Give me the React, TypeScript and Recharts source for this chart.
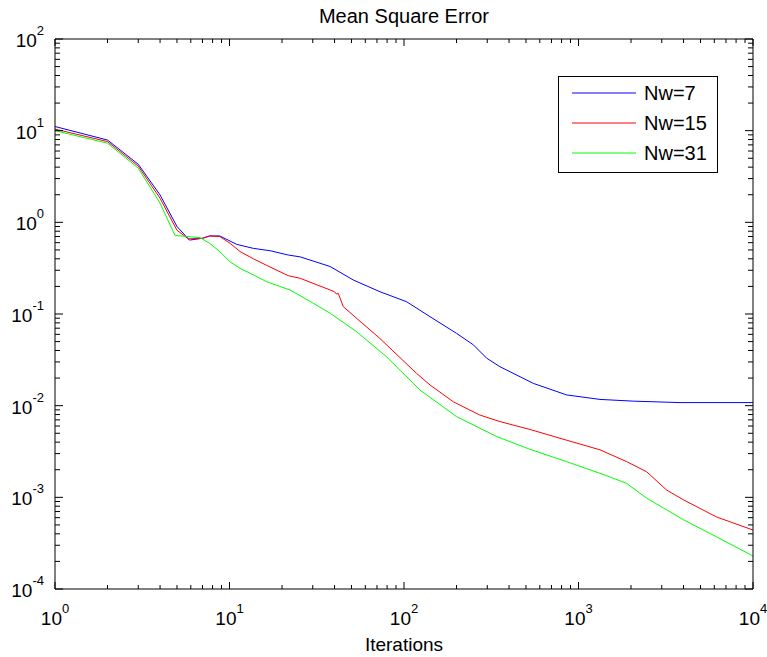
import { LineChart, Line, XAxis, YAxis, Legend } from 'recharts';

const seriesNames = ['Nw=7', 'Nw=15', 'Nw=31'];

const blueIter = [1, 2, 3, 4, 5, 5.9, 7, 7.7, 8.8, 11, 13.7, 17.1, 21.7, 25.4, 37.7, 51.2, 72.8, 103.6, 141, 200, 250, 298, 355, 551, 855, 1327, 2060, 3820, 10000];
const blueMse = [11.1, 7.9, 4.3, 1.99, 0.9, 0.64, 0.67, 0.71, 0.71, 0.575, 0.52, 0.49, 0.44, 0.42, 0.33, 0.235, 0.175, 0.136, 0.0935, 0.0615, 0.046, 0.0329, 0.0266, 0.0175, 0.0131, 0.0117, 0.0112, 0.0108, 0.0108];

const redIter = [1, 2, 3, 4, 5, 5.8, 7, 7.7, 8.8, 10.07, 11.5, 13.7, 16.3, 21.7, 25.4, 37.7, 40, 41, 42, 44.9, 72.8, 118, 141, 192, 272, 355, 527, 855, 1327, 1889, 2459, 3200, 3990, 6190, 10000];
const redMse = [10.4, 7.6, 4.1, 1.83, 0.82, 0.66, 0.67, 0.71, 0.7, 0.59, 0.48, 0.4, 0.34, 0.262, 0.245, 0.183, 0.175, 0.165, 0.168, 0.12, 0.054, 0.0225, 0.0168, 0.011, 0.0079, 0.0067, 0.0055, 0.0042, 0.0033, 0.00245, 0.0019, 0.0012, 0.00094, 0.00061, 0.00044];

const greenIter = [1, 2, 3, 4, 4.87, 6.78, 7.7, 8.8, 10.07, 11.5, 13.7, 16.3, 22.2, 30.2, 37.7, 53.6, 79.6, 123.6, 200, 340, 527, 855, 1327, 1889, 2459, 3990, 6190, 10000];
const greenMse = [10.0, 7.3, 3.9, 1.62, 0.72, 0.68, 0.59, 0.48, 0.37, 0.315, 0.267, 0.225, 0.183, 0.131, 0.102, 0.064, 0.034, 0.0148, 0.0076, 0.0046, 0.00334, 0.00245, 0.00183, 0.00142, 0.00098, 0.00057, 0.00037, 0.000229];

const xDecades = [0, 1, 2, 3, 4];
const yDecades = [-4, -3, -2, -1, 0, 1, 2];
const minorSteps = [2, 3, 4, 5, 6, 7, 8, 9];

const FONT = '"Liberation Sans", Arial, Helvetica, sans-serif';

const toPoints = (xs: number[], ys: number[]) => xs.map((x, i) => ({ x, y: ys[i] }));

// majors plus the 2..9 minor ticks inside each decade
const logTicks = (decades: number[]) => {
  const out: number[] = [];
  decades.forEach((d, i) => {
    out.push(Math.pow(10, d));
    if (i < decades.length - 1) minorSteps.forEach((m) => out.push(m * Math.pow(10, d)));
  });
  return out;
};

const xTicks = logTicks(xDecades);
const yTicks = logTicks(yDecades);

const isMajor = (v: number) => Math.abs(Math.log10(v) - Math.round(Math.log10(v))) < 1e-6;

const Power = ({ x, y, exp, anchor }: { x: number; y: number; exp: number; anchor: string }) => (
  <text x={x} y={y} textAnchor={anchor} fontFamily={FONT} fontSize={19} fill="#000">
    10
    <tspan dy={-12} fontSize={13}>{exp}</tspan>
  </text>
);

const BottomTick = (props: any) => {
  const { x, y, payload } = props;
  const major = isMajor(payload.value);
  return (
    <g>
      <line x1={x} y1={y} x2={x} y2={y - (major ? 7 : 4)} stroke="#000" />
      {major && <Power x={x} y={y + 36} exp={Math.round(Math.log10(payload.value))} anchor="middle" />}
    </g>
  );
};

const TopTick = (props: any) => {
  const { x, y, payload } = props;
  const major = isMajor(payload.value);
  return <line x1={x} y1={y} x2={x} y2={y + (major ? 7 : 4)} stroke="#000" />;
};

const LeftTick = (props: any) => {
  const { x, y, payload } = props;
  const major = isMajor(payload.value);
  return (
    <g>
      <line x1={x} y1={y} x2={x + (major ? 8 : 5)} y2={y} stroke="#000" />
      {major && <Power x={x - 11} y={y + 8} exp={Math.round(Math.log10(payload.value))} anchor="end" />}
    </g>
  );
};

const RightTick = (props: any) => {
  const { x, y, payload } = props;
  const major = isMajor(payload.value);
  return <line x1={x} y1={y} x2={x - (major ? 8 : 5)} y2={y} stroke="#000" />;
};

const renderLegend = (props: any) => {
  const entries = [...(props.payload || [])].sort(
    (a: any, b: any) => seriesNames.indexOf(a.value) - seriesNames.indexOf(b.value)
  );
  return (
    <div style={{ width: 160, height: 97, border: '1px solid #000', background: '#fff', boxSizing: 'border-box' }}>
      <svg width={158} height={95} style={{ display: 'block' }}>
        {entries.map((entry: any, i: number) => (
          <g key={entry.value}>
            <line x1={13} x2={77} y1={16 + i * 30} y2={16 + i * 30} stroke={entry.color} />
            <text x={85} y={23 + i * 30} fontFamily={FONT} fontSize={20} fill="#000">
              {entry.value}
            </text>
          </g>
        ))}
      </svg>
    </div>
  );
};

export default function App() {
  return (
    <div style={{ position: 'absolute', left: 0, top: 0, background: '#fff' }}>
      <LineChart width={767} height={657} margin={{ top: 38, right: 13, bottom: 67, left: 54 }}>
        <XAxis
          xAxisId="b"
          dataKey="x"
          type="number"
          scale="log"
          domain={[1, 10000]}
          allowDataOverflow
          ticks={xTicks}
          interval={0}
          height={1}
          tickSize={0}
          tickMargin={0}
          tick={<BottomTick />}
          axisLine={{ stroke: '#000' }}
          tickLine={false}
        />
        <XAxis
          xAxisId="t"
          orientation="top"
          dataKey="x"
          type="number"
          scale="log"
          domain={[1, 10000]}
          allowDataOverflow
          ticks={xTicks}
          interval={0}
          height={1}
          tickSize={0}
          tickMargin={0}
          tick={<TopTick />}
          axisLine={{ stroke: '#000' }}
          tickLine={false}
        />
        <YAxis
          yAxisId="l"
          type="number"
          scale="log"
          domain={[0.0001, 100]}
          allowDataOverflow
          ticks={yTicks}
          interval={0}
          width={1}
          tickSize={0}
          tickMargin={0}
          tick={<LeftTick />}
          axisLine={{ stroke: '#000' }}
          tickLine={false}
        />
        <YAxis
          yAxisId="r"
          orientation="right"
          type="number"
          scale="log"
          domain={[0.0001, 100]}
          allowDataOverflow
          ticks={yTicks}
          interval={0}
          width={1}
          tickSize={0}
          tickMargin={0}
          tick={<RightTick />}
          axisLine={{ stroke: '#000' }}
          tickLine={false}
        />
        <Line xAxisId="b" yAxisId="l" data={toPoints(blueIter, blueMse)} dataKey="y" name={seriesNames[0]} stroke="#0000ff" strokeWidth={1} dot={false} isAnimationActive={false} />
        <Line xAxisId="b" yAxisId="l" data={toPoints(redIter, redMse)} dataKey="y" name={seriesNames[1]} stroke="#ff0000" strokeWidth={1} dot={false} isAnimationActive={false} />
        <Line xAxisId="b" yAxisId="l" data={toPoints(greenIter, greenMse)} dataKey="y" name={seriesNames[2]} stroke="#00ff00" strokeWidth={1} dot={false} isAnimationActive={false} />
        <Legend
          layout="horizontal"
          verticalAlign="middle"
          align="center"
          content={renderLegend}
          wrapperStyle={{ position: 'absolute', left: 558, top: 76, width: 160, height: 97 }}
        />
        <text x={404} y={23} textAnchor="middle" fontFamily={FONT} fontSize={20} fill="#000">
          Mean Square Error
        </text>
        <text x={404} y={651} textAnchor="middle" fontFamily={FONT} fontSize={19} fill="#000">
          Iterations
        </text>
      </LineChart>
    </div>
  );
}
